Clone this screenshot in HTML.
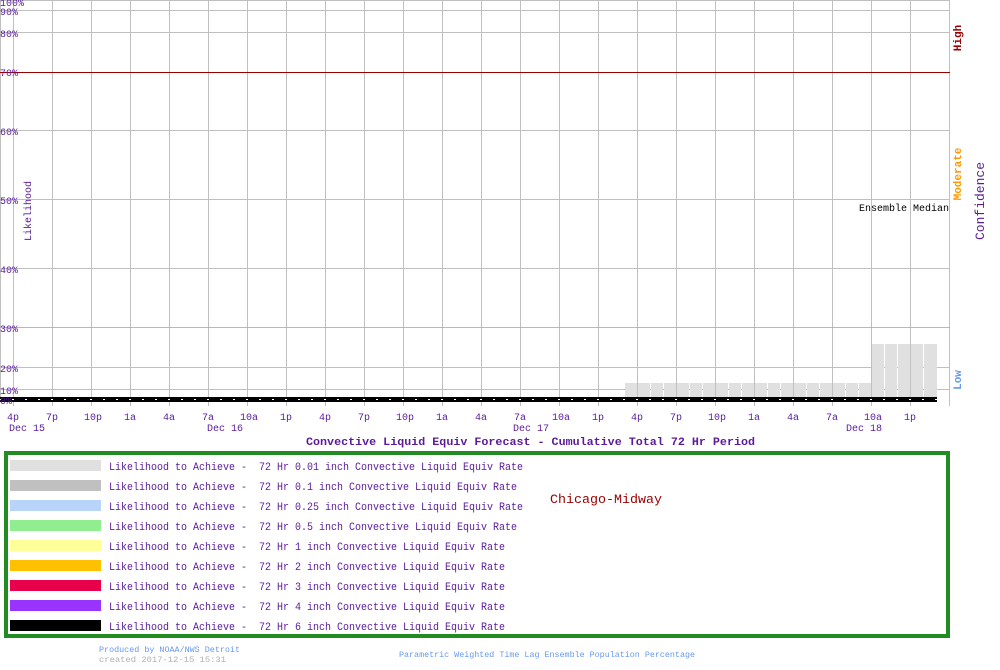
<!DOCTYPE html>
<html><head><meta charset="utf-8"><style>
html,body{margin:0;padding:0;background:#fff;}
svg{display:block;font-family:"Liberation Mono","DejaVu Sans Mono",monospace;}
text{white-space:pre;}
</style></head><body>
<svg width="1000" height="670" viewBox="0 0 1000 670" xmlns="http://www.w3.org/2000/svg">
<rect width="1000" height="670" fill="#fff"/>
<!-- grid -->
<g stroke="#c0c0c0" stroke-width="1">
<line x1="0.5" y1="0" x2="0.5" y2="402"/>
<line x1="13.5" y1="0" x2="13.5" y2="406"/><line x1="52.5" y1="0" x2="52.5" y2="406"/><line x1="91.5" y1="0" x2="91.5" y2="406"/><line x1="130.5" y1="0" x2="130.5" y2="406"/><line x1="169.5" y1="0" x2="169.5" y2="406"/><line x1="208.5" y1="0" x2="208.5" y2="406"/><line x1="247.5" y1="0" x2="247.5" y2="406"/><line x1="286.5" y1="0" x2="286.5" y2="406"/><line x1="325.5" y1="0" x2="325.5" y2="406"/><line x1="364.5" y1="0" x2="364.5" y2="406"/><line x1="403.5" y1="0" x2="403.5" y2="406"/><line x1="442.5" y1="0" x2="442.5" y2="406"/><line x1="481.5" y1="0" x2="481.5" y2="406"/><line x1="520.5" y1="0" x2="520.5" y2="406"/><line x1="559.5" y1="0" x2="559.5" y2="406"/><line x1="598.5" y1="0" x2="598.5" y2="406"/><line x1="637.5" y1="0" x2="637.5" y2="406"/><line x1="676.5" y1="0" x2="676.5" y2="406"/><line x1="715.5" y1="0" x2="715.5" y2="406"/><line x1="754.5" y1="0" x2="754.5" y2="406"/><line x1="793.5" y1="0" x2="793.5" y2="406"/><line x1="832.5" y1="0" x2="832.5" y2="406"/><line x1="871.5" y1="0" x2="871.5" y2="406"/><line x1="910.5" y1="0" x2="910.5" y2="406"/><line x1="949.5" y1="0" x2="949.5" y2="406"/>
<line x1="0" y1="0.5" x2="950" y2="0.5"/><line x1="0" y1="10.5" x2="950" y2="10.5"/><line x1="0" y1="32.5" x2="950" y2="32.5"/><line x1="0" y1="130.5" x2="950" y2="130.5"/><line x1="0" y1="199.5" x2="950" y2="199.5"/><line x1="0" y1="268.5" x2="950" y2="268.5"/><line x1="0" y1="367.5" x2="950" y2="367.5"/><line x1="0" y1="389.5" x2="950" y2="389.5"/>
</g>
<line x1="0" y1="72.5" x2="950" y2="72.5" stroke="#990000"/>
<line x1="0" y1="327.5" x2="950" y2="327.5" stroke="#ff9900" stroke-opacity="0.8"/>
<!-- bars -->
<g fill="#e0e0e0">
<rect x="625" y="383" width="12" height="15"/><rect x="638" y="383" width="12" height="15"/><rect x="651" y="383" width="12" height="15"/><rect x="664" y="383" width="12" height="15"/><rect x="677" y="383" width="12" height="15"/><rect x="690" y="383" width="12" height="15"/><rect x="703" y="383" width="12" height="15"/><rect x="716" y="383" width="12" height="15"/><rect x="729" y="383" width="12" height="15"/><rect x="742" y="383" width="12" height="15"/><rect x="755" y="383" width="12" height="15"/><rect x="768" y="383" width="12" height="15"/><rect x="781" y="383" width="12" height="15"/><rect x="794" y="383" width="12" height="15"/><rect x="807" y="383" width="12" height="15"/><rect x="820" y="383" width="12" height="15"/><rect x="833" y="383" width="12" height="15"/><rect x="846" y="383" width="12" height="15"/><rect x="859" y="383" width="12" height="15"/>
<rect x="872" y="344" width="12" height="54"/><rect x="885" y="344" width="12" height="54"/><rect x="898" y="344" width="12" height="54"/><rect x="911" y="344" width="12" height="54"/><rect x="924" y="344" width="13" height="54"/>
</g>
<rect x="0" y="397" width="937" height="5" fill="#000"/>
<line x1="0" y1="399.5" x2="937" y2="399.5" stroke="#fff" stroke-dasharray="2 11" stroke-dashoffset="-12"/>
<!-- y labels -->
<g fill="#5a1a9a" font-size="10">
<text x="0" y="6">100%</text><text x="0" y="15">90%</text><text x="0" y="37">80%</text><text x="0" y="76">70%</text><text x="0" y="135">60%</text><text x="0" y="204">50%</text><text x="0" y="273">40%</text><text x="0" y="332">30%</text><text x="0" y="372">20%</text><text x="0" y="394">10%</text><text x="0" y="404">0%</text>
<text transform="translate(31,211) rotate(-90)" text-anchor="middle">Likelihood</text>
</g>
<g fill="#5a1a9a" font-size="10" text-anchor="middle">
<text x="13" y="420">4p</text><text x="52" y="420">7p</text><text x="93" y="420">10p</text><text x="130" y="420">1a</text><text x="169" y="420">4a</text><text x="208" y="420">7a</text><text x="249" y="420">10a</text><text x="286" y="420">1p</text><text x="325" y="420">4p</text><text x="364" y="420">7p</text><text x="405" y="420">10p</text><text x="442" y="420">1a</text><text x="481" y="420">4a</text><text x="520" y="420">7a</text><text x="561" y="420">10a</text><text x="598" y="420">1p</text><text x="637" y="420">4p</text><text x="676" y="420">7p</text><text x="717" y="420">10p</text><text x="754" y="420">1a</text><text x="793" y="420">4a</text><text x="832" y="420">7a</text><text x="873" y="420">10a</text><text x="910" y="420">1p</text>
</g>
<g fill="#5a1a9a" font-size="10">
<text x="9" y="431">Dec 15</text><text x="207" y="431">Dec 16</text><text x="513" y="431">Dec 17</text><text x="846" y="431">Dec 18</text>
</g>
<text x="306" y="445" fill="#5a1a9a" font-size="11" font-weight="bold" textLength="449" lengthAdjust="spacingAndGlyphs">Convective Liquid Equiv Forecast - Cumulative Total 72 Hr Period</text>
<text x="949" y="211" text-anchor="end" fill="#000" font-size="10">Ensemble Median</text>
<g font-size="11" font-weight="bold">
<text transform="translate(961,38) rotate(-90)" text-anchor="middle" fill="#990000">High</text>
<text transform="translate(961,174) rotate(-90)" text-anchor="middle" fill="#ff9900">Moderate</text>
<text transform="translate(961,380) rotate(-90)" text-anchor="middle" fill="#6699ee">Low</text>
</g>
<text transform="translate(984,201) rotate(-90)" text-anchor="middle" fill="#5a1a9a" font-size="13">Confidence</text>
<!-- legend -->
<rect x="6" y="453" width="942" height="183" fill="none" stroke="#228b22" stroke-width="4"/>
<rect x="10" y="460" width="91" height="11" fill="#e0e0e0"/>
<rect x="10" y="480" width="91" height="11" fill="#c0c0c0"/>
<rect x="10" y="500" width="91" height="11" fill="#b8d4f8"/>
<rect x="10" y="520" width="91" height="11" fill="#90ee90"/>
<rect x="10" y="540" width="91" height="11" fill="#ffff99"/>
<rect x="10" y="560" width="91" height="11" fill="#ffc000"/>
<rect x="10" y="580" width="91" height="11" fill="#e8004c"/>
<rect x="10" y="600" width="91" height="11" fill="#9933ff"/>
<rect x="10" y="620" width="91" height="11" fill="#000"/>
<g fill="#5a1a9a" font-size="11">
<text x="109" y="470" textLength="414" lengthAdjust="spacingAndGlyphs">Likelihood to Achieve -&#160; 72 Hr 0.01 inch Convective Liquid Equiv Rate</text>
<text x="109" y="490" textLength="408" lengthAdjust="spacingAndGlyphs">Likelihood to Achieve -&#160; 72 Hr 0.1 inch Convective Liquid Equiv Rate</text>
<text x="109" y="510" textLength="414" lengthAdjust="spacingAndGlyphs">Likelihood to Achieve -&#160; 72 Hr 0.25 inch Convective Liquid Equiv Rate</text>
<text x="109" y="530" textLength="408" lengthAdjust="spacingAndGlyphs">Likelihood to Achieve -&#160; 72 Hr 0.5 inch Convective Liquid Equiv Rate</text>
<text x="109" y="550" textLength="396" lengthAdjust="spacingAndGlyphs">Likelihood to Achieve -&#160; 72 Hr 1 inch Convective Liquid Equiv Rate</text>
<text x="109" y="570" textLength="396" lengthAdjust="spacingAndGlyphs">Likelihood to Achieve -&#160; 72 Hr 2 inch Convective Liquid Equiv Rate</text>
<text x="109" y="590" textLength="396" lengthAdjust="spacingAndGlyphs">Likelihood to Achieve -&#160; 72 Hr 3 inch Convective Liquid Equiv Rate</text>
<text x="109" y="610" textLength="396" lengthAdjust="spacingAndGlyphs">Likelihood to Achieve -&#160; 72 Hr 4 inch Convective Liquid Equiv Rate</text>
<text x="109" y="630" textLength="396" lengthAdjust="spacingAndGlyphs">Likelihood to Achieve -&#160; 72 Hr 6 inch Convective Liquid Equiv Rate</text>
</g>
<text x="550" y="503" fill="#990000" font-size="13" textLength="112" lengthAdjust="spacingAndGlyphs">Chicago-Midway</text>
<text x="99" y="652" fill="#6699ee" font-size="8" textLength="141" lengthAdjust="spacingAndGlyphs">Produced by NOAA/NWS Detroit</text>
<text x="99" y="662" fill="#b0b0b0" font-size="8" textLength="127" lengthAdjust="spacingAndGlyphs">created 2017-12-15 15:31</text>
<text x="399" y="657" fill="#6699ee" font-size="8" textLength="296" lengthAdjust="spacingAndGlyphs">Parametric Weighted Time Lag Ensemble Population Percentage</text>
</svg>
</body></html>
